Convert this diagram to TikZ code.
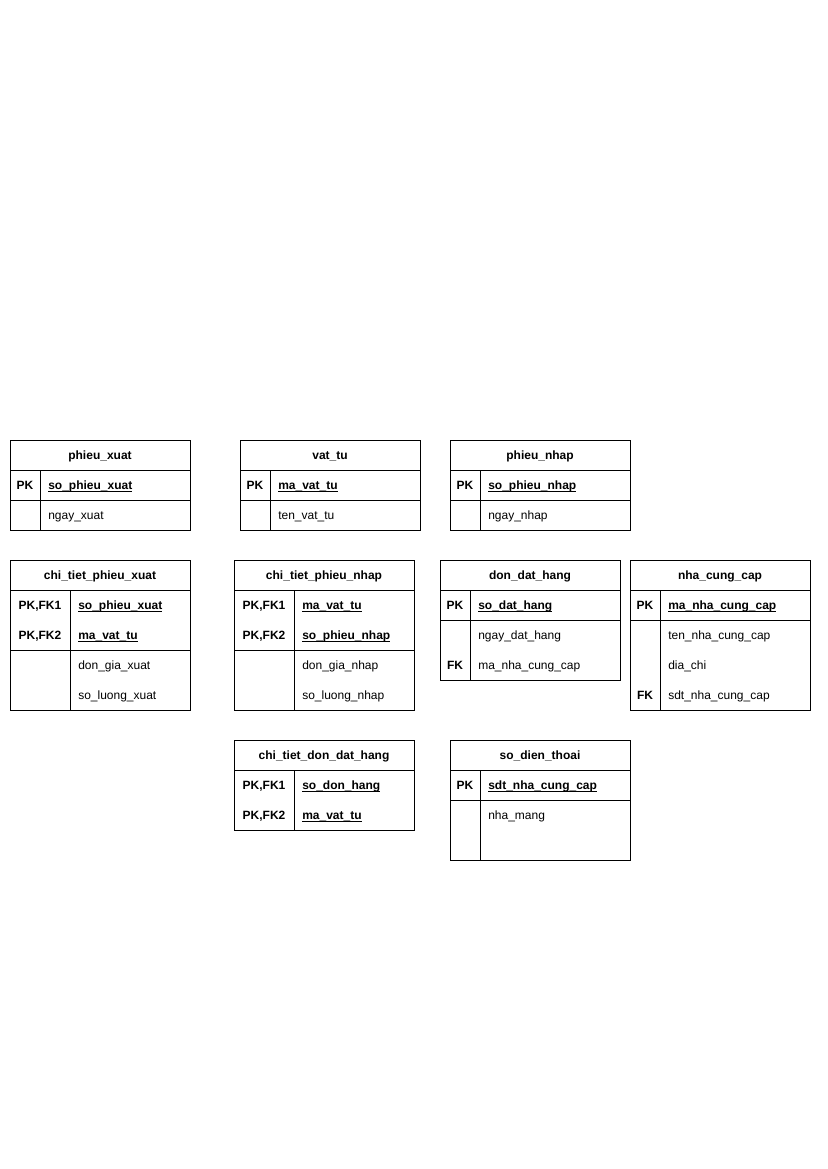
\documentclass[tikz,border=0pt]{standalone}
\usepackage{fontspec}
\setmainfont{Liberation Sans}
\usepackage{tikz}
\tikzset{
  tbl/.style={draw, line width=0.75pt
  },
  title/.style={font=\fontsize{9pt}{11pt}\selectfont\bfseries, inner sep=0pt, text height=8pt, text depth=1.2pt
  },
  keycol/.style={font=\fontsize{9pt}{11pt}\selectfont\bfseries, inner sep=0pt, text height=8pt, text depth=1.2pt
  },
  field/.style={anchor=west, inner xsep=6pt, inner ysep=0pt, text height=8pt, text depth=1.2pt, font=\fontsize{9pt}{11pt}\selectfont
  },
  keyfield/.style={field, font=\fontsize{9pt}{11pt}\selectfont\bfseries
  }
}
\newcommand{\ukey}[1]{\setbox0\hbox{#1}\rlap{\rule[-1.6pt]{\wd0}{0.6pt}}\box0}

\begin{document}
\begin{tikzpicture}[x=0.75pt,y=-0.75pt]
   \useasboundingbox (0,0) rectangle (827,1169);

   % phieu_xuat
   \draw[tbl] (10,440) rectangle (190,530);
   \draw[tbl] (10,470) -- (190,470) (10,500) -- (190,500) (40,470) -- (40,530);
   \node[title] (phieuxuat) at (100,455) {phieu\_xuat};
   \node[keycol] (px1k) at (25,485) {PK};
   \node[keyfield] (px1) at (40,485) {\ukey{so\_phieu\_xuat}};
   \node[field] (px2) at (40,515) {ngay\_xuat};

   % vat_tu
   \draw[tbl] (240,440) rectangle (420,530);
   \draw[tbl] (240,470) -- (420,470) (240,500) -- (420,500) (270,470) -- (270,530);
   \node[title] (vattu) at (330,455) {vat\_tu};
   \node[keycol] (vt1k) at (255,485) {PK};
   \node[keyfield] (vt1) at (270,485) {\ukey{ma\_vat\_tu}};
   \node[field] (vt2) at (270,515) {ten\_vat\_tu};

   % phieu_nhap
   \draw[tbl] (450,440) rectangle (630,530);
   \draw[tbl] (450,470) -- (630,470) (450,500) -- (630,500) (480,470) -- (480,530);
   \node[title] (phieunhap) at (540,455) {phieu\_nhap};
   \node[keycol] (pn1k) at (465,485) {PK};
   \node[keyfield] (pn1) at (480,485) {\ukey{so\_phieu\_nhap}};
   \node[field] (pn2) at (480,515) {ngay\_nhap};

   % chi_tiet_phieu_xuat
   \draw[tbl] (10,560) rectangle (190,710);
   \draw[tbl] (10,590) -- (190,590) (10,650) -- (190,650) (70,590) -- (70,710);
   \node[title] (ctpx) at (100,575) {chi\_tiet\_phieu\_xuat};
   \node[keycol] (ctpx1k) at (40,605) {PK,FK1};
   \node[keyfield] (ctpx1) at (70,605) {\ukey{so\_phieu\_xuat}};
   \node[keycol] (ctpx2k) at (40,635) {PK,FK2};
   \node[keyfield] (ctpx2) at (70,635) {\ukey{ma\_vat\_tu}};
   \node[field] (ctpx3) at (70,665) {don\_gia\_xuat};
   \node[field] (ctpx4) at (70,695) {so\_luong\_xuat};

   % chi_tiet_phieu_nhap
   \draw[tbl] (234,560) rectangle (414,710);
   \draw[tbl] (234,590) -- (414,590) (234,650) -- (414,650) (294,590) -- (294,710);
   \node[title] (ctpn) at (324,575) {chi\_tiet\_phieu\_nhap};
   \node[keycol] (ctpn1k) at (264,605) {PK,FK1};
   \node[keyfield] (ctpn1) at (294,605) {\ukey{ma\_vat\_tu}};
   \node[keycol] (ctpn2k) at (264,635) {PK,FK2};
   \node[keyfield] (ctpn2) at (294,635) {\ukey{so\_phieu\_nhap}};
   \node[field] (ctpn3) at (294,665) {don\_gia\_nhap};
   \node[field] (ctpn4) at (294,695) {so\_luong\_nhap};

   % don_dat_hang
   \draw[tbl] (440,560) rectangle (620,680);
   \draw[tbl] (440,590) -- (620,590) (440,620) -- (620,620) (470,590) -- (470,680);
   \node[title] (ddh) at (530,575) {don\_dat\_hang};
   \node[keycol] (ddh1k) at (455,605) {PK};
   \node[keyfield] (ddh1) at (470,605) {\ukey{so\_dat\_hang}};
   \node[field] (ddh2) at (470,635) {ngay\_dat\_hang};
   \node[keycol] (ddh3k) at (455,665) {FK};
   \node[field] (ddh3) at (470,665) {ma\_nha\_cung\_cap};

   % nha_cung_cap
   \draw[tbl] (630,560) rectangle (810,710);
   \draw[tbl] (630,590) -- (810,590) (630,620) -- (810,620) (660,590) -- (660,710);
   \node[title] (ncc) at (720,575) {nha\_cung\_cap};
   \node[keycol] (ncc1k) at (645,605) {PK};
   \node[keyfield] (ncc1) at (660,605) {\ukey{ma\_nha\_cung\_cap}};
   \node[field] (ncc2) at (660,635) {ten\_nha\_cung\_cap};
   \node[field] (ncc3) at (660,665) {dia\_chi};
   \node[keycol] (ncc4k) at (645,695) {FK};
   \node[field] (ncc4) at (660,695) {sdt\_nha\_cung\_cap};

   % chi_tiet_don_dat_hang
   \draw[tbl] (234,740) rectangle (414,830);
   \draw[tbl] (234,770) -- (414,770) (294,770) -- (294,830);
   \node[title] (ctddh) at (324,755) {chi\_tiet\_don\_dat\_hang};
   \node[keycol] (ctddh1k) at (264,785) {PK,FK1};
   \node[keyfield] (ctddh1) at (294,785) {\ukey{so\_don\_hang}};
   \node[keycol] (ctddh2k) at (264,815) {PK,FK2};
   \node[keyfield] (ctddh2) at (294,815) {\ukey{ma\_vat\_tu}};

   % so_dien_thoai
   \draw[tbl] (450,740) rectangle (630,860);
   \draw[tbl] (450,770) -- (630,770) (450,800) -- (630,800) (480,770) -- (480,860);
   \node[title] (sdt) at (540,755) {so\_dien\_thoai};
   \node[keycol] (sdt1k) at (465,785) {PK};
   \node[keyfield] (sdt1) at (480,785) {\ukey{sdt\_nha\_cung\_cap}};
   \node[field] (sdt2) at (480,815) {nha\_mang};
\end{tikzpicture}
\end{document}
